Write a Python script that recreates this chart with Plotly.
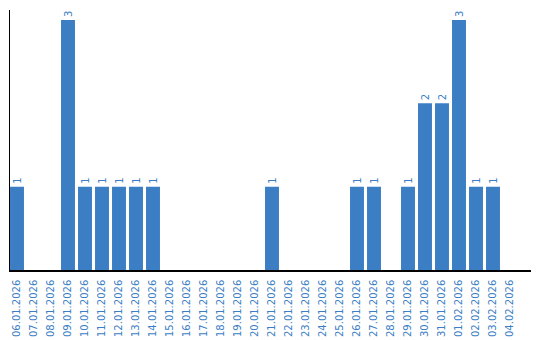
import plotly.graph_objects as go

dates = ["06.01.2026", "07.01.2026", "08.01.2026", "09.01.2026", "10.01.2026",
         "11.01.2026", "12.01.2026", "13.01.2026", "14.01.2026", "15.01.2026",
         "16.01.2026", "17.01.2026", "18.01.2026", "19.01.2026", "20.01.2026",
         "21.01.2026", "22.01.2026", "23.01.2026", "24.01.2026", "25.01.2026",
         "26.01.2026", "27.01.2026", "28.01.2026", "29.01.2026", "30.01.2026",
         "31.01.2026", "01.02.2026", "02.02.2026", "03.02.2026", "04.02.2026"]
counts = [1, 0, 0, 3, 1, 1, 1, 1, 1, 0,
          0, 0, 0, 0, 0, 1, 0, 0, 0, 0,
          1, 1, 0, 1, 2, 2, 3, 1, 1, 0]

labels = [str(v) if v > 0 else "" for v in counts]
blue = "#3b7ec4"

fig = go.Figure(go.Bar(
    x=dates, y=counts, text=labels, textposition="outside", textangle=-90,
    textfont=dict(color=blue, size=10, family="DejaVu Sans"),
    marker=dict(color=blue, line=dict(width=0)),
    cliponaxis=False,
))
fig.update_layout(
    width=540, height=340, margin=dict(l=10, r=9, t=10, b=70),
    paper_bgcolor="white", plot_bgcolor="white", bargap=0.18,
    showlegend=False,
    xaxis=dict(type="category", range=[-0.412, 30.235], tickangle=-90,
               showline=True, linecolor="black", linewidth=1.5, ticks="",
               showgrid=False, automargin=False, ticklabelstandoff=4,
               tickfont=dict(color=blue, size=10, family="DejaVu Sans")),
    yaxis=dict(range=[0, 3.12], showline=True, linecolor="black", linewidth=1,
               showticklabels=False, showgrid=False, zeroline=False, ticks="",
               automargin=False),
)
fig.write_html("out.html")
